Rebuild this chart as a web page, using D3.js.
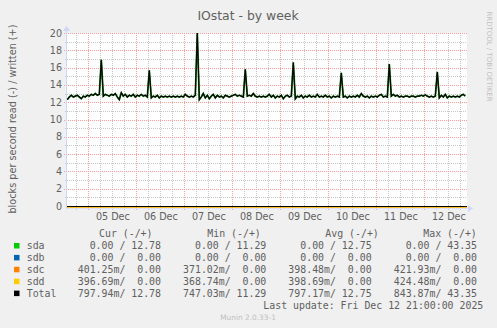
<!DOCTYPE html>
<html>
<head>
<meta charset="utf-8">
<script src="https://cdn.jsdelivr.net/npm/d3@7"></script>
<style>
  body { margin: 0; background: #F0F0F0; }
  svg { display: block; }
  text { font-family: "DejaVu Sans", sans-serif; fill: #606060; }
  .mono { font-family: "DejaVu Sans Mono", monospace; white-space: pre; }
</style>
</head>
<body>
<svg id="chart"></svg>
<script>
const W = 497, H = 328;

// hourly samples starting Dec 4 13:30 UTC, blocks/s written (sda == total)
const startTime = Date.UTC(2025, 11, 4, 13, 30);
const written = [
  12.3, 12.6, 12.8, 12.6, 12.7, 12.8, 12.6, 12.4, 12.7, 12.6, 12.8, 12.7, 12.9, 12.8, 13.0, 12.8, 12.9, 16.9, 12.7, 12.9,
  12.8, 12.7, 12.9, 12.8, 13.0, 12.6, 12.3, 13.1, 12.7, 12.9, 12.6, 12.8, 12.7, 12.9, 12.6, 12.8, 12.7, 12.9, 12.7, 12.8,
  12.6, 15.7, 12.5, 12.7, 12.6, 12.8, 12.5, 12.7, 12.6, 12.7, 12.6, 12.7, 12.6, 12.7, 12.6, 12.7, 12.6, 12.7, 12.6, 12.9,
  12.7, 12.6, 12.7, 12.6, 12.8, 20.0, 12.3, 12.6, 13.0, 12.5, 12.8, 12.4, 12.7, 12.9, 12.5, 12.8, 12.6, 12.7, 12.5, 12.8,
  12.7, 12.6, 12.7, 12.8, 12.9, 12.7, 12.8, 12.7, 12.6, 15.8, 12.7, 12.8, 12.7, 13.0, 12.7, 12.6, 12.7, 12.6, 12.7, 12.6,
  12.7, 12.9, 12.6, 12.8, 12.5, 12.7, 12.6, 12.8, 12.4, 12.7, 12.8, 12.6, 12.7, 16.6, 12.4, 12.7, 12.6, 12.8, 12.5, 12.7,
  12.6, 12.8, 12.6, 12.7, 12.6, 12.9, 12.6, 12.7, 12.6, 12.8, 12.6, 12.7, 12.5, 12.7, 12.6, 12.7, 12.6, 15.4, 12.6, 12.7,
  12.5, 12.7, 12.6, 12.7, 12.6, 12.8, 12.6, 13.0, 12.7, 12.6, 12.7, 12.5, 12.7, 12.6, 12.7, 12.6, 12.8, 12.9, 12.6, 12.7,
  12.6, 16.4, 12.7, 12.9, 12.7, 12.8, 12.6, 12.7, 12.6, 12.7, 12.7, 12.6, 12.7, 12.7, 12.6, 12.7, 12.7, 12.8, 12.7, 12.85,
  12.7, 12.6, 12.7, 12.6, 12.7, 15.5, 12.5, 12.8, 12.6, 12.9, 12.5, 12.7, 12.6, 12.7, 12.6, 12.7, 12.6, 12.8, 12.9, 12.7
];
// read side (drawn negative), average blocks/s
const readSdc = -0.398;
const readSdd = -0.399;

const yTicks = [0, 2, 4, 6, 8, 10, 12, 14, 16, 18, 20];

const names = ['sda', 'sdb', 'sdc', 'sdd', 'Total'];
const colors = ['#00CC00', '#0066B3', '#FF8000', '#FFCC00', '#000000'];
const curVals = ['  0.00 / 12.78', '  0.00 /  0.00', '401.25m/  0.00', '396.69m/  0.00', '797.94m/ 12.78'];
const minVals = ['  0.00 / 11.29', '  0.00 /  0.00', '371.02m/  0.00', '368.74m/  0.00', '747.03m/ 11.29'];
const avgVals = ['  0.00 / 12.75', '  0.00 /  0.00', '398.48m/  0.00', '398.69m/  0.00', '797.17m/ 12.75'];
const maxVals = ['  0.00 / 43.35', '  0.00 /  0.00', '421.93m/  0.00', '424.48m/  0.00', '843.87m/ 43.35'];
const headers = ['Cur (-/+)', 'Min (-/+)', 'Avg (-/+)', 'Max (-/+)'];

const plotLeft = 67, plotRight = 467, plotTop = 33, plotBottom = 208;

var svg = d3.select('#chart').attr('width', W).attr('height', H);

svg.append('rect').attr('width', W).attr('height', H).attr('fill', '#F0F0F0');
svg.append('rect')
    .attr('x', plotLeft).attr('y', plotTop)
    .attr('width', plotRight - plotLeft).attr('height', plotBottom - plotTop)
    .attr('fill', '#ffffff');

var x = d3.scaleUtc()
    .domain([new Date(Date.UTC(2025, 11, 4, 13, 21)), new Date(Date.UTC(2025, 11, 12, 21, 21))])
    .range([plotLeft, plotRight]);

var y = d3.scaleLinear()
    .domain([-0.23, 20])
    .range([plotBottom, plotTop])
    .clamp(true);

var data = written.map((v, i) => ({ t: new Date(startTime + i * 3600e3), v: v }));

// grid: minor
var hours6 = d3.utcHour.every(6).range(x.domain()[0], x.domain()[1]).filter(d => d.getUTCHours() !== 0);
svg.append('g').selectAll('line')
    .data(hours6).enter().append('line')
    .attr('x1', d => Math.round(x(d)) + 0.5).attr('x2', d => Math.round(x(d)) + 0.5)
    .attr('y1', plotTop).attr('y2', plotBottom + 2)
    .attr('stroke', '#c8c8c8').attr('stroke-dasharray', '1,1');

var minorY = d3.range(1, 20, 2);
svg.append('g').selectAll('line')
    .data(minorY).enter().append('line')
    .attr('x1', plotLeft - 2).attr('x2', plotRight)
    .attr('y1', d => Math.round(y(d)) + 0.5).attr('y2', d => Math.round(y(d)) + 0.5)
    .attr('stroke', '#c8c8c8').attr('stroke-dasharray', '1,1');

// grid: major
var days = d3.utcDay.range(x.domain()[0], x.domain()[1]);
svg.append('g').selectAll('line')
    .data(days).enter().append('line')
    .attr('x1', d => Math.round(x(d)) + 0.5).attr('x2', d => Math.round(x(d)) + 0.5)
    .attr('y1', plotTop).attr('y2', plotBottom + 3)
    .attr('stroke', '#ff9a9a').attr('stroke-dasharray', '1,1');

svg.append('g').selectAll('line')
    .data(yTicks.slice(1)).enter().append('line')
    .attr('x1', plotLeft - 3).attr('x2', plotRight)
    .attr('y1', d => Math.round(y(d)) + 0.5).attr('y2', d => Math.round(y(d)) + 0.5)
    .attr('stroke', '#ff9a9a').attr('stroke-dasharray', '1,1');

// read lines (clamped at the bottom edge)
var flat = [x.domain()[0], x.domain()[1]];
[[readSdc, colors[2]], [readSdd, colors[3]]].forEach(function (s) {
    svg.append('path')
        .datum(flat)
        .attr('d', d3.line().x(d => x(d)).y(d => y(s[0]) - 0.5))
        .attr('fill', 'none').attr('stroke', s[1]).attr('stroke-width', 1).attr('opacity', 0.6);
});

// zero rule
svg.append('line')
    .attr('x1', plotLeft).attr('x2', plotRight)
    .attr('y1', Math.round(y(0)) + 0.5).attr('y2', Math.round(y(0)) + 0.5)
    .attr('stroke', '#000').attr('stroke-width', 1);

// written lines: sda then total on top
var line = d3.line().x(d => x(d.t)).y(d => y(d.v));
svg.append('path').datum(data)
    .attr('d', line).attr('fill', 'none')
    .attr('stroke', '#1a8a1a').attr('stroke-width', 1.8);
svg.append('path').datum(data)
    .attr('d', line).attr('fill', 'none')
    .attr('stroke', '#000').attr('stroke-width', 1.2);

// axes lines with arrows
svg.append('line')
    .attr('x1', plotLeft).attr('x2', plotRight + 2)
    .attr('y1', plotBottom + 0.5).attr('y2', plotBottom + 0.5)
    .attr('stroke', '#CFD6F8').attr('opacity', 0.6);
svg.append('path')
    .attr('d', `M${plotRight + 1},${plotBottom - 3} L${plotRight + 6},${plotBottom + 0.5} L${plotRight + 1},${plotBottom + 4} Z`)
    .attr('fill', '#CFD6F8');
svg.append('line')
    .attr('x1', plotLeft - 0.5).attr('x2', plotLeft - 0.5)
    .attr('y1', plotBottom + 1).attr('y2', plotTop - 3)
    .attr('stroke', '#CFD6F8');
svg.append('path')
    .attr('d', `M${plotLeft - 4},${plotTop - 2} L${plotLeft - 0.5},${plotTop - 7} L${plotLeft + 3},${plotTop - 2} Z`)
    .attr('fill', '#CFD6F8');

// y axis labels
var yAxis = svg.append('g')
    .attr('transform', `translate(${plotLeft - 5},0)`)
    .call(d3.axisLeft(y).tickValues(yTicks).tickSize(0).tickPadding(0).tickFormat(d3.format('d')));
yAxis.select('.domain').remove();
yAxis.selectAll('text')
    .style('font-family', '"DejaVu Sans", sans-serif')
    .style('font-size', '9.6px').attr('fill', '#606060');

// x axis labels at noon
var noons = days.map(d => d3.utcHour.offset(d, 12)).filter(d => x(d) < plotRight);
var xAxis = svg.append('g')
    .attr('transform', `translate(0,${plotBottom + 3})`)
    .call(d3.axisBottom(x).tickValues(noons).tickSize(0).tickPadding(2).tickFormat(d3.utcFormat('%d %b')));
xAxis.select('.domain').remove();
xAxis.selectAll('text')
    .style('font-family', '"DejaVu Sans", sans-serif')
    .style('font-size', '9.6px').attr('fill', '#606060');

// titles
svg.append('text')
    .attr('x', 248).attr('y', 19.5)
    .attr('text-anchor', 'middle')
    .style('font-size', '12.4px')
    .text('IOstat - by week');

svg.append('text')
    .attr('transform', 'translate(15.5,119) rotate(-90)')
    .attr('text-anchor', 'middle')
    .style('font-size', '9.7px')
    .text('blocks per second read (-) / written (+)');

svg.append('text')
    .attr('transform', 'translate(487,56.5) rotate(90)')
    .attr('text-anchor', 'middle')
    .style('font-size', '7px')
    .style('fill', '#c0c0c0')
    .text('RRDTOOL / TOBI OETIKER');

// legend
const rowY = 249.3, rowStep = 11.9;
const headerX = [99, 207.3, 325.3, 423.3];
const colEnd = [161, 266.3, 371.6, 477];
var legend = svg.append('g').attr('class', 'legend');

legend.selectAll('.hdr')
    .data(headers).enter().append('text')
    .attr('class', 'mono hdr')
    .attr('x', (d, i) => headerX[i]).attr('y', rowY - rowStep)
    .style('font-size', '9.9px')
    .text(d => d);

var rows = legend.selectAll('.row')
    .data(names).enter().append('g')
    .attr('transform', (d, i) => `translate(0,${rowY + i * rowStep})`);

rows.append('rect')
    .attr('x', 14).attr('y', -6.3)
    .attr('width', 5.5).attr('height', 5.5)
    .attr('fill', (d, i) => colors[i]);

rows.append('text')
    .attr('class', 'mono')
    .attr('x', 26.7)
    .style('font-size', '9.9px')
    .text(d => d);

[curVals, minVals, avgVals, maxVals].forEach(function (col, c) {
    rows.append('text')
        .attr('class', 'mono')
        .attr('x', colEnd[c])
        .attr('text-anchor', 'end')
        .style('font-size', '9.9px')
        .text((d, i) => col[i]);
});

legend.append('text')
    .attr('class', 'mono')
    .attr('x', 483.3).attr('y', rowY + 5 * rowStep)
    .attr('text-anchor', 'end')
    .style('font-size', '9.9px')
    .text('Last update: Fri Dec 12 21:00:00 2025');

svg.append('text')
    .attr('x', 248).attr('y', 319.5)
    .attr('text-anchor', 'middle')
    .style('font-size', '7.4px')
    .style('fill', '#c0c0c0')
    .text('Munin 2.0.33-1');
</script>
</body>
</html>
